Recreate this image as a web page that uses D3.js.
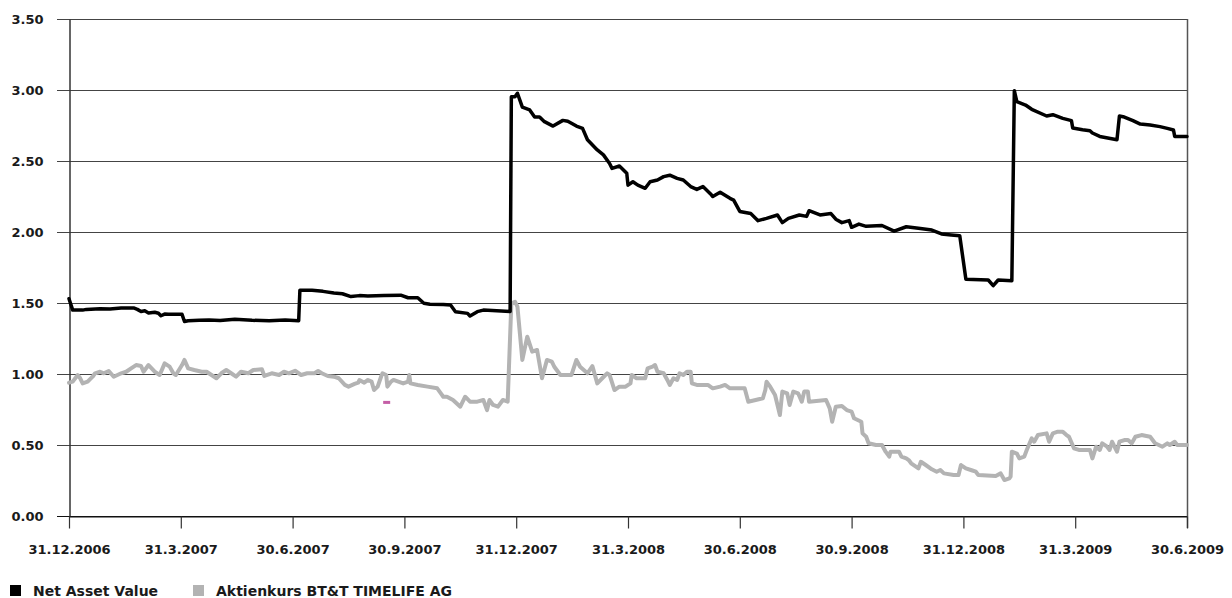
<!DOCTYPE html>
<html>
<head>
<meta charset="utf-8">
<script src="https://cdn.jsdelivr.net/npm/d3@7"></script>
<style>
  body { margin: 0; background: #fff; }
  text { font-family: "DejaVu Sans", sans-serif; font-weight: bold; font-size: 13px; fill: #1a1a1a; }
  .legend text { font-size: 14px; }
</style>
</head>
<body>
<svg id="chart"></svg>
<script>
// dates on the x axis (quarter ends), data points are [days since startDate, value]
const startDate = "2006-12-31";
const tickDates = ["2006-12-31", "2007-03-31", "2007-06-30", "2007-09-30", "2007-12-31",
  "2008-03-31", "2008-06-30", "2008-09-30", "2008-12-31", "2009-03-31", "2009-06-30"];
const yTicks = [0, 0.5, 1, 1.5, 2, 2.5, 3, 3.5];
const seriesNames = ["Net Asset Value", "Aktienkurs BT&T TIMELIFE AG"];
const seriesColors = ["#000000", "#b3b3b3"];

const navPoints = [
  [0, 1.53], [3, 1.45], [11, 1.45], [14, 1.455], [25, 1.46], [33, 1.458], [42, 1.465], [52, 1.465],
  [55, 1.455], [58, 1.44], [61, 1.445], [64, 1.43], [69, 1.435], [72, 1.428], [74, 1.41], [77, 1.422],
  [80, 1.42], [91, 1.42], [93, 1.37], [96, 1.375], [105, 1.378], [113, 1.38], [122, 1.376], [134, 1.385],
  [148, 1.378], [162, 1.375], [175, 1.38], [186, 1.375], [187, 1.59], [197, 1.59], [206, 1.582],
  [215, 1.57], [222, 1.565], [229, 1.545], [236, 1.552], [243, 1.55], [256, 1.553], [270, 1.555],
  [276, 1.537], [284, 1.537], [289, 1.498], [294, 1.491], [305, 1.49], [311, 1.486], [315, 1.439],
  [325, 1.427], [327, 1.408], [333, 1.439], [338, 1.45], [360, 1.44],
  [361, 2.953], [364, 2.953], [366, 2.977], [370, 2.88], [376, 2.86], [380, 2.81], [384, 2.81],
  [388, 2.777], [395, 2.746], [403, 2.786], [407, 2.78], [414, 2.746], [419, 2.73], [423, 2.65],
  [431, 2.578], [436, 2.543], [441, 2.483], [443, 2.448], [449, 2.465], [455, 2.413], [456, 2.33],
  [460, 2.354], [464, 2.33], [470, 2.308], [474, 2.354], [480, 2.366], [485, 2.39], [490, 2.40],
  [496, 2.378], [501, 2.366], [507, 2.32], [512, 2.30], [517, 2.32], [523, 2.27], [525, 2.25],
  [531, 2.28], [539, 2.237], [542, 2.225], [547, 2.145], [556, 2.13], [562, 2.08], [569, 2.096],
  [578, 2.12], [582, 2.066], [587, 2.096], [596, 2.12], [602, 2.11], [604, 2.15], [613, 2.12],
  [622, 2.13], [626, 2.09], [631, 2.066], [637, 2.08], [639, 2.033], [645, 2.056], [651, 2.04],
  [664, 2.046], [674, 2.006], [684, 2.037], [694, 2.026], [705, 2.014], [713, 1.986], [721, 1.979],
  [728, 1.974], [733, 1.667], [751, 1.662], [755, 1.622], [759, 1.662], [770, 1.657], [772, 2.995],
  [774, 2.918], [781, 2.894], [786, 2.864], [798, 2.817], [803, 2.826], [811, 2.80], [818, 2.784],
  [819, 2.732], [827, 2.72], [833, 2.713], [835, 2.697], [841, 2.673], [855, 2.65], [857, 2.817],
  [860, 2.812], [868, 2.784], [874, 2.76], [882, 2.753], [890, 2.742], [896, 2.73], [901, 2.718],
  [902, 2.673], [912, 2.673]
];

const stockPoints = [
  [0, 0.939], [3, 0.946], [7, 0.993], [9, 0.97], [11, 0.934], [15, 0.946], [19, 0.981], [21, 1.005],
  [25, 1.016], [28, 1.005], [32, 1.021], [36, 0.981], [42, 1.005], [46, 1.016], [50, 1.04], [54, 1.063],
  [58, 1.056], [60, 1.016], [64, 1.063], [69, 1.016], [73, 0.993], [77, 1.075], [81, 1.052], [84, 1.005],
  [86, 0.993], [91, 1.063], [93, 1.099], [96, 1.04], [101, 1.028], [107, 1.016], [111, 1.016], [115, 0.993],
  [119, 0.97], [123, 1.005], [127, 1.028], [131, 1.005], [135, 0.981], [139, 1.016], [145, 1.005],
  [149, 1.028], [156, 1.033], [158, 0.986], [164, 1.005], [170, 0.993], [174, 1.016], [178, 1.005],
  [183, 1.023], [188, 0.993], [193, 1.005], [199, 1.005], [202, 1.021], [205, 1.005], [210, 0.986],
  [215, 0.981], [219, 0.97], [224, 0.923], [227, 0.911], [232, 0.93], [235, 0.939], [236, 0.958],
  [240, 0.939], [243, 0.958], [246, 0.946], [248, 0.887], [251, 0.911], [254, 0.986], [255, 1.005],
  [258, 0.993], [259, 0.911], [262, 0.946], [264, 0.958], [268, 0.946], [272, 0.934], [276, 0.946],
  [277, 0.993], [278, 0.934], [284, 0.923], [292, 0.911], [300, 0.899], [303, 0.864], [305, 0.84],
  [308, 0.84], [313, 0.817], [319, 0.77], [323, 0.84], [327, 0.805], [333, 0.805], [338, 0.817],
  [341, 0.746], [343, 0.817], [346, 0.782], [350, 0.77], [354, 0.817], [358, 0.805], [361, 1.498],
  [364, 1.509], [366, 1.474], [370, 1.099], [374, 1.263], [378, 1.157], [382, 1.169], [386, 0.97],
  [390, 1.099], [394, 1.087], [396, 1.051], [401, 0.993], [410, 0.993], [414, 1.099], [417, 1.051],
  [423, 1.005], [427, 1.056], [431, 0.934], [435, 0.97], [439, 1.005], [441, 0.993], [445, 0.887],
  [449, 0.911], [454, 0.911], [458, 0.934], [459, 0.993], [463, 0.97], [470, 0.97], [472, 1.04],
  [476, 1.052], [478, 1.063], [480, 1.016], [485, 1.005], [488, 0.958], [490, 0.923], [493, 0.97],
  [496, 0.958], [498, 1.005], [501, 0.993], [504, 1.016], [507, 1.016], [508, 0.934], [512, 0.923],
  [521, 0.923], [525, 0.899], [531, 0.911], [535, 0.923], [539, 0.899], [551, 0.899], [554, 0.805],
  [560, 0.817], [566, 0.829], [568, 0.887], [569, 0.946], [572, 0.911], [576, 0.852], [580, 0.711],
  [582, 0.876], [586, 0.864], [588, 0.782], [591, 0.876], [595, 0.864], [598, 0.805], [600, 0.876],
  [603, 0.876], [604, 0.805], [618, 0.817], [621, 0.758], [623, 0.664], [626, 0.77], [631, 0.775],
  [635, 0.746], [639, 0.735], [641, 0.688], [644, 0.676], [647, 0.664], [648, 0.582], [651, 0.558],
  [653, 0.512], [659, 0.5], [664, 0.5], [667, 0.453], [670, 0.418], [671, 0.453], [678, 0.453],
  [680, 0.418], [684, 0.406], [686, 0.394], [688, 0.371], [694, 0.335], [696, 0.382], [700, 0.359],
  [705, 0.329], [709, 0.312], [712, 0.324], [715, 0.3], [723, 0.289], [727, 0.289], [729, 0.359],
  [733, 0.335], [737, 0.324], [741, 0.312], [743, 0.289], [757, 0.282], [761, 0.3], [764, 0.253],
  [768, 0.265], [769, 0.277], [770, 0.453], [774, 0.44], [776, 0.406], [780, 0.418], [782, 0.465],
  [786, 0.547], [788, 0.523], [791, 0.57], [798, 0.582], [800, 0.523], [803, 0.582], [807, 0.594],
  [811, 0.594], [814, 0.57], [816, 0.558], [820, 0.477], [824, 0.465], [833, 0.465], [835, 0.406],
  [838, 0.488], [841, 0.465], [843, 0.512], [847, 0.488], [849, 0.465], [851, 0.523], [855, 0.453],
  [857, 0.523], [861, 0.535], [864, 0.535], [867, 0.512], [870, 0.558], [875, 0.57], [882, 0.558],
  [886, 0.512], [892, 0.488], [896, 0.512], [898, 0.5], [902, 0.523], [904, 0.5], [912, 0.5]
];

// small stray marker in the original
const markerPoint = [258, 0.80];

const width = 1232, height = 598;
const plot = { left: 69, right: 1187, top: 19, bottom: 516 };

const svg = d3.select("#chart").attr("width", width).attr("height", height);
svg.append("rect").attr("width", width).attr("height", height).attr("fill", "#fff");

const parse = d3.timeParse("%Y-%m-%d");
const start = parse(startDate);
const ticks = tickDates.map(parse);
const toDate = d => d3.timeDay.offset(start, d);

// equally spaced quarters, like the original category-style date axis
const step = (plot.right - plot.left) / (ticks.length - 1);
const x = d3.scaleTime().domain(ticks).range(ticks.map((_, i) => plot.left + i * step));
const y = d3.scaleLinear().domain([0, 3.5]).range([plot.bottom, plot.top]);

// grid lines
svg.append("g").selectAll("line").data(yTicks).enter().append("line")
  .attr("x1", plot.left - 12).attr("x2", plot.right)
  .attr("y1", d => Math.round(y(d)) + 0.5).attr("y2", d => Math.round(y(d)) + 0.5)
  .attr("stroke", d => d === 0 ? "#111" : "#444").attr("stroke-width", 1);

// right border
svg.append("line").attr("x1", plot.right + 0.5).attr("x2", plot.right + 0.5)
  .attr("y1", plot.top).attr("y2", plot.bottom + 12)
  .attr("stroke", "#555").attr("stroke-width", 1.5);

const yAxis = svg.append("g").attr("transform", `translate(${plot.left + 0.5},0)`)
  .call(d3.axisLeft(y).tickValues(yTicks).tickFormat(d3.format(".2f")).tickSize(0).tickPadding(26));
yAxis.select(".domain").attr("stroke", "#333").attr("stroke-width", 1.5);
yAxis.selectAll("text").attr("font-family", null).attr("font-size", null);

const xAxis = svg.append("g").attr("transform", `translate(0,${Math.round(plot.bottom) + 0.5})`)
  .call(d3.axisBottom(x).tickValues(ticks).tickFormat(d3.timeFormat("%-d.%-m.%Y")).tickSizeInner(12).tickSizeOuter(0).tickPadding(16));
xAxis.select(".domain").attr("stroke", "#111");
xAxis.selectAll(".tick line").attr("stroke", "#333").attr("stroke-width", 1.2);
xAxis.selectAll("text").attr("font-family", null).attr("font-size", null);

const line = d3.line().x(d => x(toDate(d[0]))).y(d => y(d[1])).curve(d3.curveLinear);

svg.append("path").datum(stockPoints)
  .attr("d", line).attr("fill", "none").attr("stroke", seriesColors[1])
  .attr("stroke-width", 4).attr("stroke-linejoin", "round").attr("stroke-linecap", "round");

svg.append("path").datum(navPoints)
  .attr("d", line).attr("fill", "none").attr("stroke", seriesColors[0])
  .attr("stroke-width", 3.5).attr("stroke-linejoin", "round").attr("stroke-linecap", "round");

svg.append("rect")
  .attr("x", x(toDate(markerPoint[0])) - 3).attr("y", y(markerPoint[1]) - 1.5)
  .attr("width", 7).attr("height", 3).attr("fill", "#c45ea6");

// legend
const legendX = [10, 193];
const legend = svg.append("g").attr("class", "legend").selectAll("g").data(seriesNames).enter().append("g")
  .attr("transform", (_, i) => `translate(${legendX[i]},585)`);
legend.append("rect").attr("width", 11).attr("height", 11).attr("fill", (_, i) => seriesColors[i]);
legend.append("text").attr("x", 23).attr("y", 11).text(d => d);
</script>
</body>
</html>
